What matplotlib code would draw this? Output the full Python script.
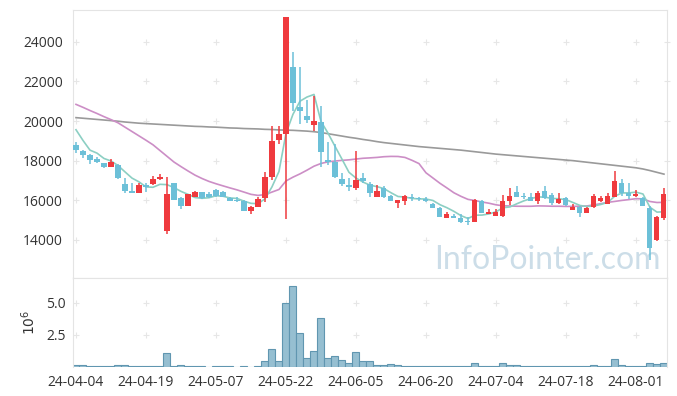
from __future__ import annotations

import matplotlib

matplotlib.use("Agg")
import matplotlib.pyplot as plt
import numpy as np
import pandas as pd


# trading days shown on the axis (one label every 10 sessions)
TICK_LABELS = ["24-04-04", "24-04-19", "24-05-07", "24-05-22", "24-06-05",
               "24-06-20", "24-07-04", "24-07-18", "24-08-01"]
TICK_EVERY = 10

OPEN = [18800, 18500, 18300, 18100, 17900, 17700, 17800, 16800, 16450, 16380,
        16750, 16800, 17050, 14450, 16850, 16100, 15720, 16170, 16400, 16300,
        16500, 16430, 16100, 16030, 15970, 15460, 15660, 16100, 17200, 19020,
        19360, 22700, 20700, 20250, 19800, 19950, 18050, 17950, 17050, 16750,
        16620, 17150, 16800, 16170, 16640, 16200, 15870, 15970, 16150, 16130,
        16080, 15830, 15630, 15130, 15230, 15100, 14930, 14920, 15950, 15330,
        15210, 15200, 15970, 16400, 16200, 16150, 15970, 16450, 16250, 15870,
        16130, 15530, 15650, 15360, 15660, 15970, 15830, 16170, 16850, 16380,
        16230, 16130, 15620, 13980, 15110]
HIGH = [18950, 18550, 18350, 18200, 17900, 18100, 17850, 17100, 16850, 16880,
        16870, 17250, 17350, 17200, 16850, 16150, 16320, 16450, 16420, 16420,
        16560, 16450, 16150, 16150, 16000, 15700, 16150, 17430, 19750, 19750,
        25250, 23500, 22700, 21050, 21250, 20750, 18950, 18850, 17380, 17120,
        18500, 17380, 16920, 16750, 16700, 16250, 16000, 16250, 16300, 16180,
        16150, 15850, 15650, 15420, 15330, 15330, 15150, 16080, 16000, 15550,
        15550, 16250, 16600, 16700, 16350, 16350, 16450, 16700, 16350, 16350,
        16150, 15830, 15700, 15650, 16300, 16200, 16350, 17480, 17050, 16850,
        16500, 16150, 15700, 15200, 16600]
LOW = [18400, 18150, 17850, 17900, 17650, 17700, 17050, 16350, 16350, 16350,
       16420, 16750, 17000, 14300, 16000, 15550, 15700, 16150, 16050, 16120,
       16150, 16150, 15950, 15920, 15450, 15330, 15650, 15920, 17000, 18850,
       15050, 20500, 19850, 19900, 19500, 17700, 17800, 17150, 16700, 16450,
       16500, 16850, 16170, 16150, 16100, 15950, 15630, 15780, 15970, 15950,
       15900, 15600, 15150, 15100, 15100, 14870, 14750, 14900, 15350, 15300,
       15200, 15150, 15750, 16150, 16050, 15950, 15830, 16050, 15750, 15800,
       15700, 15500, 15170, 15350, 15600, 15900, 15800, 16150, 16220, 16080,
       16170, 15700, 12980, 13950, 15000]
CLOSE = [18550, 18300, 18050, 17950, 17700, 17920, 17150, 16450, 16380, 16750,
         16650, 17050, 17200, 16300, 16000, 15700, 16300, 16400, 16100, 16150,
         16200, 16170, 15970, 15980, 15460, 15650, 16080, 17200, 19000, 19350,
         25250, 20900, 20500, 20050, 20000, 18450, 17950, 17180, 16800, 16680,
         17000, 16950, 16370, 16450, 16170, 15970, 16000, 16230, 16100, 16050,
         15950, 15620, 15170, 15330, 15130, 14880, 14900, 16000, 15360, 15420,
         15400, 15950, 16200, 16170, 16150, 15970, 16370, 16120, 15870, 16050,
         15750, 15650, 15380, 15600, 16200, 16130, 16200, 16950, 16370, 16220,
         16320, 15730, 13600, 15150, 16300]

# volume in millions of shares
VOLUME_M = [0.13, 0.13, 0.05, 0.05, 0.05, 0.05, 0.13, 0.13, 0.05, 0.05,
            0.05, 0.05, 0.05, 1.07, 0.05, 0.13, 0.05, 0.05, 0.05, 0.01,
            0.05, 0.05, 0.05, 0.01, 0.05, 0.01, 0.05, 0.44, 1.43, 0.44,
            5.03, 6.30, 2.68, 0.73, 1.22, 3.85, 0.73, 0.89, 0.52, 0.34,
            1.20, 0.44, 0.50, 0.18, 0.18, 0.26, 0.18, 0.10, 0.10, 0.10,
            0.05, 0.10, 0.10, 0.05, 0.05, 0.10, 0.05, 0.34, 0.10, 0.05,
            0.05, 0.34, 0.18, 0.18, 0.10, 0.05, 0.10, 0.10, 0.10, 0.10,
            0.10, 0.10, 0.10, 0.05, 0.18, 0.10, 0.10, 0.65, 0.18, 0.10,
            0.05, 0.10, 0.34, 0.26, 0.34]

# moving averages before enough sessions are on screen
MA5_HEAD = [19560, 19020, 18530, 18380]
MA20_HEAD = [20840, 20690, 20530, 20380, 20220, 20070, 19910, 19690, 19470,
             19250, 19030, 18800, 18510, 18220, 17930, 17700, 17480, 17270, 17100]
MA120 = [20170, 20140, 20110, 20080, 20050, 20020, 19990, 19950, 19920, 19890,
         19870, 19850, 19830, 19810, 19790, 19770, 19750, 19730, 19720, 19700,
         19690, 19670, 19650, 19640, 19620, 19610, 19600, 19580, 19570, 19550,
         19540, 19530, 19510, 19490, 19460, 19420, 19360, 19300, 19240, 19180,
         19130, 19070, 19020, 18960, 18910, 18870, 18830, 18790, 18750, 18710,
         18680, 18650, 18620, 18590, 18560, 18530, 18490, 18450, 18410, 18370,
         18330, 18300, 18270, 18240, 18210, 18180, 18150, 18120, 18090, 18060,
         18030, 18000, 17960, 17920, 17880, 17840, 17800, 17760, 17720, 17680,
         17640, 17580, 17500, 17410, 17320]

PRICE_TICKS = [14000, 16000, 18000, 20000, 22000, 24000]
VOLUME_TICKS = [2.5, 5.0]

UP = "#ef3a3e"
DOWN = "#6cc0d8"
MA5_COLOR = "#8ccfc3"
MA20_COLOR = "#cc8ec6"
MA120_COLOR = "#9a9a9a"
SPINE = "#e4e4e4"
GRID = "#e6e6e6"
TEXT = "#333333"

plt.rcParams["font.family"] = ["Open Sans", "DejaVu Sans"]


def moving_average(close: pd.Series, window: int, head: list[float]) -> np.ndarray:
    ma = close.rolling(window).mean().to_numpy()
    ma[: len(head)] = head
    return ma


def style_axes(ax, xticks, yticks) -> None:
    for side in ("left", "top", "right", "bottom"):
        ax.spines[side].set_color(SPINE)
    xx, yy = np.meshgrid(xticks, yticks)
    ax.plot(xx.ravel(), yy.ravel(), "+", color=GRID, ms=4.5, mew=0.8, zorder=0)
    ax.tick_params(axis="y", length=0, labelsize=10, labelcolor=TEXT, pad=5)
    ax.tick_params(axis="x", length=0, labelsize=10, labelcolor=TEXT, pad=6)


def main() -> None:
    df = pd.DataFrame({"open": OPEN, "high": HIGH, "low": LOW, "close": CLOSE,
                       "volume": VOLUME_M})
    x = np.arange(len(df))
    ma5 = moving_average(df["close"], 5, MA5_HEAD)
    ma20 = moving_average(df["close"], 20, MA20_HEAD)

    fig = plt.figure(figsize=(6.77, 3.96), dpi=100)
    ax = fig.add_axes([0.1078, 0.2980, 0.8774, 0.6767])
    axv = fig.add_axes([0.1078, 0.0732, 0.8774, 0.2248], sharex=ax)

    xticks = x[::TICK_EVERY]

    ax.plot(x, MA120, color=MA120_COLOR, lw=1.2, zorder=2)
    ax.plot(x, ma20, color=MA20_COLOR, lw=1.2, zorder=2)
    ax.plot(x, ma5, color=MA5_COLOR, lw=1.2, zorder=2)

    up = df["close"] >= df["open"]
    colors = np.where(up, UP, DOWN)
    body_low = np.minimum(df["open"], df["close"])
    body_h = np.maximum((df["close"] - df["open"]).abs(), 40)
    ax.vlines(x, df["low"], df["high"], colors=colors, lw=1.1, zorder=3)
    ax.bar(x, body_h, bottom=body_low, width=0.72, color=colors, zorder=4,
           linewidth=0)

    ax.text(0.99, 0.035, "InfoPointer.com", transform=ax.transAxes,
            ha="right", va="baseline", fontsize=23, color="#c3d8e4",
            alpha=0.85, zorder=1, family=["Lato", "DejaVu Sans"])

    ax.set_xlim(-0.43, len(df) - 0.57)
    ax.set_ylim(12080, 25600)
    ax.set_yticks(PRICE_TICKS)
    ax.set_yticklabels([str(v) for v in PRICE_TICKS])
    style_axes(ax, xticks, PRICE_TICKS)
    ax.tick_params(axis="x", labelbottom=False)
    ax.tick_params(axis="y", which="both", right=True, direction="inout",
                   length=4.5, color=GRID)
    ax.tick_params(axis="y", left=False)

    axv.bar(x, df["volume"], width=1.0, color="#96bfd1", edgecolor="#6096b0",
            linewidth=0.8, zorder=2)
    axv.set_ylim(0, 6.95)
    axv.set_yticks(VOLUME_TICKS)
    axv.set_yticklabels(["2.5", "5.0"])
    axv.set_xticks(xticks)
    axv.set_xticklabels(TICK_LABELS)
    style_axes(axv, xticks, VOLUME_TICKS)
    axv.spines["bottom"].set_visible(False)
    axv.set_ylabel(r"$10^6$", fontsize=10, color=TEXT, labelpad=5)

    fig.savefig("out.png", dpi=100)
    plt.close(fig)


if __name__ == "__main__":
    main()
